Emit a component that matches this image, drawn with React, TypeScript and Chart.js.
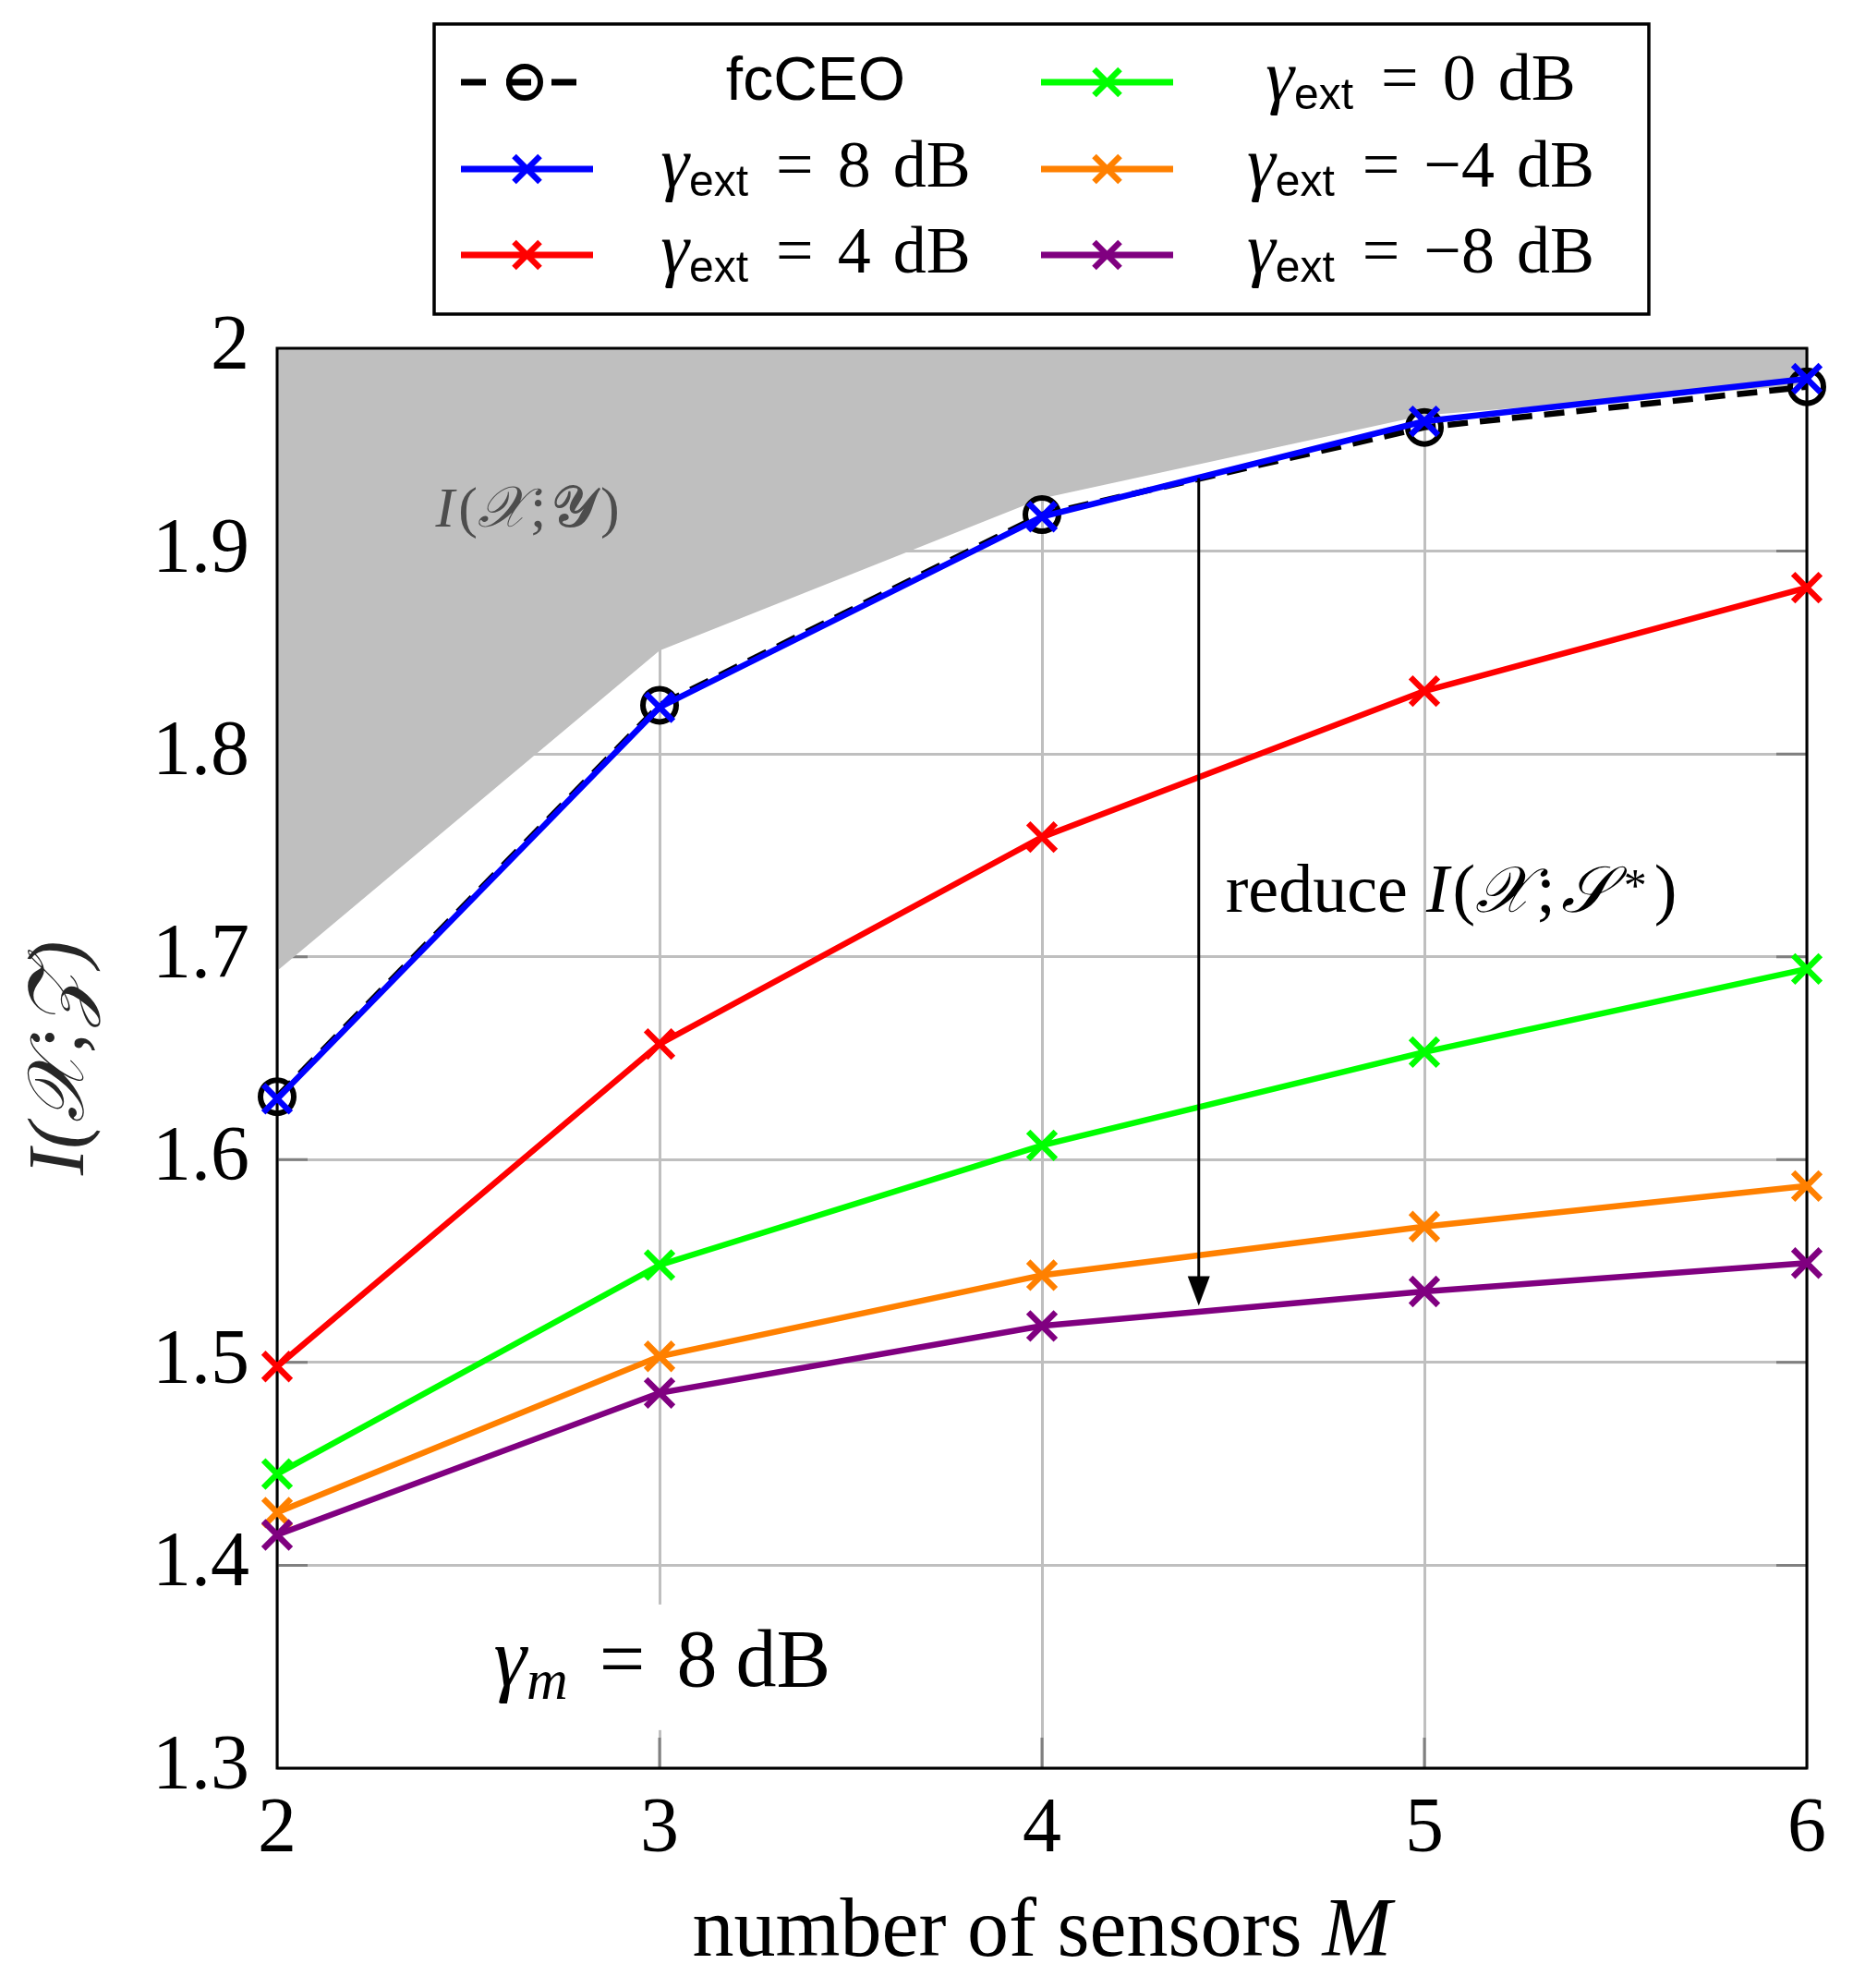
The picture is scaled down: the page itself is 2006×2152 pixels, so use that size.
import { useEffect, useRef } from 'react';
import { Chart, registerables } from 'chart.js';

Chart.register(...registerables);

// x axis: number of sensors M
const sensors = [2, 3, 4, 5, 6];
// upper bound I(X;Y) – shaded area above this curve
const boundIXY = [1.693, 1.851, 1.926, 1.967, 1.982];
const fcCEO = [1.631, 1.824, 1.918, 1.961, 1.981];
// one series per external SNR level gamma_ext
const ext8dB = [1.63, 1.823, 1.917, 1.964, 1.985];
const ext4dB = [1.498, 1.657, 1.759, 1.831, 1.882];
const ext0dB = [1.445, 1.548, 1.607, 1.653, 1.694];
const extM4dB = [1.426, 1.503, 1.543, 1.567, 1.587];
const extM8dB = [1.415, 1.485, 1.518, 1.535, 1.549];
const extLevels = [8, 4, 0, -4, -8];
const extSeries = [ext8dB, ext4dB, ext0dB, extM4dB, extM8dB];
const extColors = ['#0000ff', '#ff0000', '#00ff00', '#ff8000', '#800080'];

// annotation anchors (data units)
const arrowX = 4.41;
const arrowFrom = 1.936;
const arrowTo = 1.528;

const SERIF = '"Liberation Serif", serif';
const SANS = '"Liberation Sans", sans-serif';

type Part = { t: string; font: string; dy?: number; gap?: number; color?: string };

function richWidth(ctx: CanvasRenderingContext2D, parts: Part[]) {
  let w = 0;
  for (const p of parts) {
    ctx.font = p.font;
    w += (p.gap ?? 0) + ctx.measureText(p.t).width;
  }
  return w;
}

function drawRich(ctx: CanvasRenderingContext2D, parts: Part[], x: number, y: number, align: 'left' | 'center') {
  let cx = align === 'center' ? x - richWidth(ctx, parts) / 2 : x;
  ctx.textAlign = 'left';
  ctx.textBaseline = 'alphabetic';
  for (const p of parts) {
    ctx.font = p.font;
    ctx.fillStyle = p.color ?? '#000';
    cx += p.gap ?? 0;
    ctx.fillText(p.t, cx, y + (p.dy ?? 0));
    cx += ctx.measureText(p.t).width;
  }
  return cx;
}

const fmtLevel = (v: number) => (v < 0 ? '\u2212' : '') + Math.abs(v);

function extLabelParts(v: number): Part[] {
  return [
    { t: 'γ', font: `italic 78px ${SERIF}` },
    { t: 'ext', font: `48px ${SANS}`, dy: 10 },
    { t: '=', font: `72px ${SERIF}`, gap: 30 },
    { t: fmtLevel(v), font: `72px ${SERIF}`, gap: 26 },
    { t: 'dB', font: `72px ${SERIF}`, gap: 24 },
  ];
}

function drawCross(ctx: CanvasRenderingContext2D, x: number, y: number, color: string) {
  const r = 14;
  ctx.save();
  ctx.strokeStyle = color;
  ctx.lineWidth = 6.5;
  ctx.setLineDash([]);
  ctx.beginPath();
  ctx.moveTo(x - r, y - r);
  ctx.lineTo(x + r, y + r);
  ctx.moveTo(x - r, y + r);
  ctx.lineTo(x + r, y - r);
  ctx.stroke();
  ctx.restore();
}

// inner tick marks, under the shaded area
const tickPlugin = {
  id: 'innerTicks',
  beforeDatasetsDraw(chart: any) {
    const { ctx, chartArea: a, scales } = chart;
    ctx.save();
    ctx.strokeStyle = '#808080';
    ctx.lineWidth = 3;
    const tl = 33;
    ctx.beginPath();
    for (const t of scales.x.ticks) {
      if (t.value <= 2 || t.value >= 6) continue;
      const px = scales.x.getPixelForValue(t.value);
      ctx.moveTo(px, a.bottom);
      ctx.lineTo(px, a.bottom - tl);
      ctx.moveTo(px, a.top);
      ctx.lineTo(px, a.top + tl);
    }
    for (const t of scales.y.ticks) {
      if (t.value <= 1.3 + 1e-6 || t.value >= 2 - 1e-6) continue;
      const py = scales.y.getPixelForValue(t.value);
      ctx.moveTo(a.left, py);
      ctx.lineTo(a.left + tl, py);
      ctx.moveTo(a.right, py);
      ctx.lineTo(a.right - tl, py);
    }
    ctx.stroke();
    ctx.restore();
  },
};

// frame, drawn right after the shaded area
const framePlugin = {
  id: 'frame',
  afterDatasetDraw(chart: any, args: any) {
    if (args.index !== 0) return;
    const { ctx, chartArea: a } = chart;
    ctx.save();
    ctx.strokeStyle = '#000';
    ctx.lineWidth = 3;
    ctx.strokeRect(a.left, a.top, a.right - a.left, a.bottom - a.top);
    ctx.restore();
  },
};

const notesPlugin = {
  id: 'notes',
  afterDatasetsDraw(chart: any) {
    const { ctx, scales, chartArea: a } = chart;
    const x = scales.x;
    const y = scales.y;
    ctx.save();

    // shaded-area label
    const g = '#4d4d4d';
    drawRich(
      ctx,
      [
        { t: 'I', font: `italic 62px ${SERIF}`, color: g },
        { t: '(', font: `62px ${SERIF}`, color: g, gap: 4 },
        { t: '𝒳', font: `italic 62px ${SERIF}`, color: g },
        { t: ';', font: `62px ${SERIF}`, color: g, gap: 4 },
        { t: '𝓨', font: `62px ${SERIF}`, color: g, gap: 6 },
        { t: ')', font: `62px ${SERIF}`, color: g, gap: 4 },
      ],
      x.getPixelForValue(2.655),
      y.getPixelForValue(1.912),
      'center',
    );

    // arrow
    const ax = x.getPixelForValue(arrowX);
    const y0 = y.getPixelForValue(arrowFrom);
    const y1 = y.getPixelForValue(arrowTo);
    ctx.strokeStyle = '#000';
    ctx.fillStyle = '#000';
    ctx.lineWidth = 3;
    ctx.beginPath();
    ctx.moveTo(ax, y0);
    ctx.lineTo(ax, y1 - 28);
    ctx.stroke();
    ctx.beginPath();
    ctx.moveTo(ax - 12, y1 - 32);
    ctx.lineTo(ax + 12, y1 - 32);
    ctx.lineTo(ax, y1);
    ctx.closePath();
    ctx.fill();

    drawRich(
      ctx,
      [
        { t: 'reduce', font: `74px ${SERIF}` },
        { t: 'I', font: `italic 74px ${SERIF}`, gap: 20 },
        { t: '(', font: `74px ${SERIF}`, gap: 4 },
        { t: '𝒳', font: `italic 70px ${SERIF}` },
        { t: ';', font: `74px ${SERIF}`, gap: 6 },
        { t: '𝒮', font: `italic 70px ${SERIF}`, gap: 6 },
        { t: '*', font: `50px ${SERIF}`, dy: -12, gap: 14 },
        { t: ')', font: `74px ${SERIF}`, gap: 8 },
      ],
      x.getPixelForValue(4.48),
      y.getPixelForValue(1.722),
      'left',
    );

    // gamma_m note with white background
    const gm: Part[] = [
      { t: 'γ', font: `italic 90px ${SERIF}` },
      { t: 'm', font: `italic 62px ${SERIF}`, dy: 14 },
      { t: '=', font: `88px ${SERIF}`, gap: 34 },
      { t: '8', font: `88px ${SERIF}`, gap: 34 },
      { t: 'dB', font: `88px ${SERIF}`, gap: 20 },
    ];
    const gx = x.getPixelForValue(3.007);
    const gy = y.getPixelForValue(1.3406);
    const gw = richWidth(ctx, gm);
    ctx.fillStyle = '#fff';
    ctx.fillRect(gx - gw / 2 - 10, gy - 88, gw + 20, 136);
    drawRich(ctx, gm, gx, gy, 'center');

    // x axis title with italic M
    drawRich(
      ctx,
      [
        { t: 'number of sensors', font: `90px ${SERIF}` },
        { t: 'M', font: `italic 90px ${SERIF}`, gap: 22 },
      ],
      (a.left + a.right) / 2,
      2117,
      'center',
    );
    ctx.restore();
  },
};

// two-column legend above the axes
const legendPlugin = {
  id: 'boxLegend',
  afterDraw(chart: any) {
    const { ctx } = chart;
    ctx.save();
    ctx.strokeStyle = '#000';
    ctx.lineWidth = 3.5;
    ctx.strokeRect(470, 26, 1315, 314);

    const rows = [89, 183, 276];
    const cols = [
      { x0: 499, x1: 642, tx: 883 },
      { x0: 1127, x1: 1270, tx: 1538 },
    ];
    const entries: { kind: 'ceo' | 'ext'; level?: number; color: string }[] = [
      { kind: 'ceo', color: '#000' },
      ...extLevels.map((v, i) => ({ kind: 'ext' as const, level: v, color: extColors[i] })),
    ];
    entries.forEach((e, i) => {
      const col = cols[Math.floor(i / 3)];
      const ry = rows[i % 3];
      const mid = (col.x0 + col.x1) / 2;
      if (e.kind === 'ceo') {
        ctx.strokeStyle = '#000';
        ctx.lineWidth = 7;
        ctx.setLineDash([27, 22]);
        ctx.beginPath();
        ctx.moveTo(col.x0, ry);
        ctx.lineTo(col.x0 + 125, ry);
        ctx.stroke();
        ctx.setLineDash([]);
        ctx.lineWidth = 6;
        ctx.beginPath();
        ctx.arc(col.x0 + 69, ry, 17, 0, Math.PI * 2);
        ctx.stroke();
        ctx.font = `66px ${SANS}`;
        ctx.fillStyle = '#000';
        ctx.textAlign = 'center';
        ctx.textBaseline = 'alphabetic';
        ctx.fillText('fcCEO', col.tx, ry + 19);
      } else {
        ctx.strokeStyle = e.color;
        ctx.lineWidth = 7;
        ctx.beginPath();
        ctx.moveTo(col.x0, ry);
        ctx.lineTo(col.x1, ry);
        ctx.stroke();
        drawCross(ctx, mid, ry, e.color);
        drawRich(ctx, extLabelParts(e.level as number), col.tx, ry + 19, 'center');
      }
    });
    ctx.restore();
  },
};

export default function App() {
  const canvasRef = useRef<HTMLCanvasElement>(null);

  useEffect(() => {
    if (!canvasRef.current) return;
    const pts = (ys: number[]) => sensors.map((s, i) => ({ x: s, y: ys[i] }));

    const datasets: any[] = [
      {
        label: 'I(X;Y)',
        data: pts(boundIXY),
        fill: 'end',
        backgroundColor: '#bfbfbf',
        borderWidth: 0,
        pointRadius: 0,
        order: 10,
      },
      {
        label: 'fcCEO',
        data: pts(fcCEO),
        borderColor: '#000',
        borderWidth: 6.5,
        borderDash: [22, 13],
        pointStyle: 'circle',
        pointRadius: 18,
        pointBorderWidth: 6,
        pointBackgroundColor: 'rgba(0,0,0,0)',
        pointBorderColor: '#000',
        fill: false,
        clip: false,
        order: 9,
      },
      ...extSeries.map((ys, i) => ({
        label: `γext = ${fmtLevel(extLevels[i])} dB`,
        data: pts(ys),
        borderColor: extColors[i],
        borderWidth: 6.5,
        pointStyle: 'crossRot',
        pointRadius: 21,
        pointBorderWidth: 6.5,
        pointBorderColor: extColors[i],
        pointBackgroundColor: extColors[i],
        fill: false,
        clip: false,
        order: 8 - i,
      })),
    ];

    const chart = new Chart(canvasRef.current, {
      type: 'line',
      data: { datasets },
      options: {
        animation: false,
        responsive: true,
        maintainAspectRatio: false,
        layout: { padding: { top: 377, right: 50, left: 0, bottom: 0 } },
        elements: { line: { tension: 0 } },
        plugins: {
          legend: { display: false },
          tooltip: { enabled: false },
        },
        scales: {
          x: {
            type: 'linear',
            min: 2,
            max: 6,
            ticks: {
              stepSize: 1,
              padding: 18,
              color: '#000',
              font: { family: SERIF, size: 84 },
            },
            grid: { color: '#bfbfbf', lineWidth: 3, drawTicks: false },
            border: { display: false },
            title: { display: false },
            afterFit: (s: any) => {
              s.height = 238;
            },
          },
          y: {
            type: 'linear',
            min: 1.3,
            max: 2,
            ticks: {
              stepSize: 0.1,
              padding: 30,
              color: '#000',
              font: { family: SERIF, size: 84 },
              callback: (v: any) => String(Math.round(Number(v) * 10) / 10),
            },
            grid: { color: '#bfbfbf', lineWidth: 3, drawTicks: false },
            border: { display: false },
            title: {
              display: true,
              text: 'I(𝒳;𝒵)',
              color: '#262626',
              font: { family: SERIF, size: 86, style: 'italic' },
              padding: { top: 16, bottom: 0 },
            },
            afterFit: (s: any) => {
              s.width = 300;
            },
          },
        },
      },
      plugins: [tickPlugin, framePlugin, notesPlugin, legendPlugin],
    });

    return () => chart.destroy();
  }, []);

  return (
    <div style={{ position: 'absolute', left: 0, top: 0, width: 2006, height: 2152, background: '#fff' }}>
      <canvas ref={canvasRef} />
    </div>
  );
}
